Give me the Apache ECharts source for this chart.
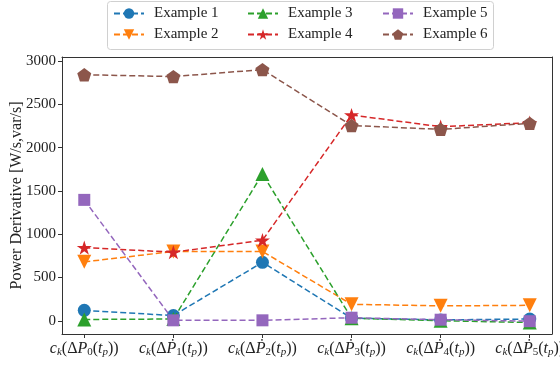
<!DOCTYPE html>
<html><head><meta charset="utf-8">
<script src="https://cdn.jsdelivr.net/npm/echarts@6/dist/echarts.min.js"></script>
<style>html,body{margin:0;padding:0;background:#fff}#c{width:560px;height:365px}</style>
</head><body><div id="c"></div>
<script>
// ---- data ----
var xTickLabels = ['c_k(ΔP_0(t_p))','c_k(ΔṖ_1(t_p))','c_k(ΔṖ_2(t_p))','c_k(ΔṖ_3(t_p))','c_k(ΔṖ_4(t_p))','c_k(ΔṖ_5(t_p))'];
var xTickPositions = [0, 1, 2, 3, 4, 5];
var yTicks = [0, 500, 1000, 1500, 2000, 2500, 3000];
var seriesNames = ['Example 1','Example 2','Example 3','Example 4','Example 5','Example 6'];
var example1 = [120, 60, 675, 30, 10, 20];
var example2 = [680, 800, 800, 190, 172, 178];
var example3 = [15, 20, 1695, 30, 0, -20];
var example4 = [845, 792, 930, 2376, 2241, 2287];
var example5 = [1396, 5, 5, 35, 12, -5];
var example6 = [2841, 2820, 2900, 2255, 2210, 2280];

var colors = ['#1f77b4','#ff7f0e','#2ca02c','#d62728','#9467bd','#8c564b'];
var starPath = 'path://M0,-1 L0.2245,-0.309 L0.951,-0.309 L0.363,0.118 L0.588,0.809 L0,0.382 L-0.588,0.809 L-0.363,0.118 L-0.951,-0.309 L-0.2245,-0.309 Z';
var pentPath = 'path://M0,-1 L0.951,-0.309 L0.588,0.809 L-0.588,0.809 L-0.951,-0.309 Z';
var symbols = [
  {symbol:'circle', size:13, rotate:0},
  {symbol:'triangle', size:14, rotate:180},
  {symbol:'triangle', size:14, rotate:0},
  {symbol:starPath, size:15, rotate:0},
  {symbol:'rect', size:12, rotate:0},
  {symbol:pentPath, size:14, rotate:0}
];
var allData = [example1, example2, example3, example4, example5, example6];

var SERIF = '"Liberation Serif","DejaVu Serif",serif';
var AXC = '#333';

function texToRich(s){
  var out = '', cur = null, buf = '';
  function push(st, ch){
    if (st !== cur){ if (cur !== null) out += '{' + cur + '|' + buf + '}'; cur = st; buf = ''; }
    buf += ch;
  }
  for (var i = 0; i < s.length; i++){
    var ch = s[i], sub = false;
    if (ch === '_'){ sub = true; i++; ch = s[i]; }
    var letter = /[A-Za-zṖ]/.test(ch);
    var st = (sub ? 's' : '') + (letter ? 'i' : 'n');
    push(st, ch);
  }
  if (cur !== null) out += '{' + cur + '|' + buf + '}';
  return out;
}

var series = allData.map(function(arr, k){
  return {
    name: seriesNames[k], type: 'line',
    data: arr.map(function(v, i){ return [xTickPositions[i], v]; }),
    symbol: symbols[k].symbol, symbolSize: symbols[k].size, symbolRotate: symbols[k].rotate,
    symbolKeepAspect: true,
    lineStyle: {color: colors[k], width: 1.5, type: [6, 3]},
    itemStyle: {color: colors[k], borderWidth: 0},
    emphasis: {disabled: true},
    animation: false, z: 2 + k
  };
});

var legendPos = [
  {left:113, top:6}, {left:113, top:27},
  {left:247, top:6}, {left:247, top:27},
  {left:382, top:6}, {left:382, top:27}
];
var legends = seriesNames.map(function(n, k){
  return {
    data: [n], left: legendPos[k].left, top: legendPos[k].top, padding: 0,
    itemWidth: 30, itemHeight: 13, selectedMode: false,
    textStyle: {fontFamily: SERIF, fontSize: 15, color: '#222', padding: [0,0,0,5]}
  };
});

function frameAxis(pos, type){
  return {
    type: 'value', position: pos, min: type === 'x' ? -0.25 : -153, max: type === 'x' ? 5.25 : 3046,
    axisLine: {show: true, onZero: false, lineStyle: {color: AXC, width: 1}},
    axisTick: {show: false}, axisLabel: {show: false}, splitLine: {show: false}
  };
}

var chart = echarts.init(document.getElementById('c'), null, {renderer: 'canvas'});
chart.setOption({
  animation: false,
  color: colors,
  graphic: [{
    type: 'rect', left: 107, top: 1, z: -1,
    shape: {width: 386, height: 48, r: 3},
    style: {fill: '#fff', stroke: '#d0d0d0', lineWidth: 1}
  }],
  legend: legends,
  grid: {left: 62, right: 8, top: 57, bottom: 31, containLabel: false, outerBoundsMode: 'none'},
  xAxis: [{
    type: 'value', position: 'bottom', min: -0.25, max: 5.25,
    axisLine: {show: true, onZero: false, lineStyle: {color: AXC, width: 1}},
    splitLine: {show: false},
    axisTick: {show: true, customValues: xTickPositions, length: 4, lineStyle: {color: AXC}},
    axisLabel: {
      customValues: xTickPositions, margin: 5, color: '#222', hideOverlap: false,
      formatter: function(v){ return texToRich(xTickLabels[xTickPositions.indexOf(Math.round(v))]); },
      rich: {
        n: {fontFamily: SERIF, fontSize: 16, color: '#222'},
        i: {fontFamily: SERIF, fontSize: 16, fontStyle: 'italic', color: '#222'},
        sn: {fontFamily: SERIF, fontSize: 11, color: '#222', padding: [8,0,0,0]},
        si: {fontFamily: SERIF, fontSize: 11, fontStyle: 'italic', color: '#222', padding: [8,0,0,0]}
      }
    }
  }, frameAxis('top', 'x')],
  yAxis: [{
    type: 'value', position: 'left', min: -153, max: 3046,
    name: 'Power Derivative [W/s,var/s]', nameLocation: 'middle', nameGap: 37, nameMoveOverlap: false,
    nameTextStyle: {fontFamily: SERIF, fontSize: 16, color: '#222'},
    axisLine: {show: true, onZero: false, lineStyle: {color: AXC, width: 1}},
    splitLine: {show: false},
    axisTick: {show: true, customValues: yTicks, length: 4, lineStyle: {color: AXC}},
    axisLabel: {customValues: yTicks, margin: 6, fontFamily: SERIF, fontSize: 15, color: '#222',
                formatter: function(v){ return String(v); }}
  }, frameAxis('right', 'y')],
  series: series
});
</script></body></html>
